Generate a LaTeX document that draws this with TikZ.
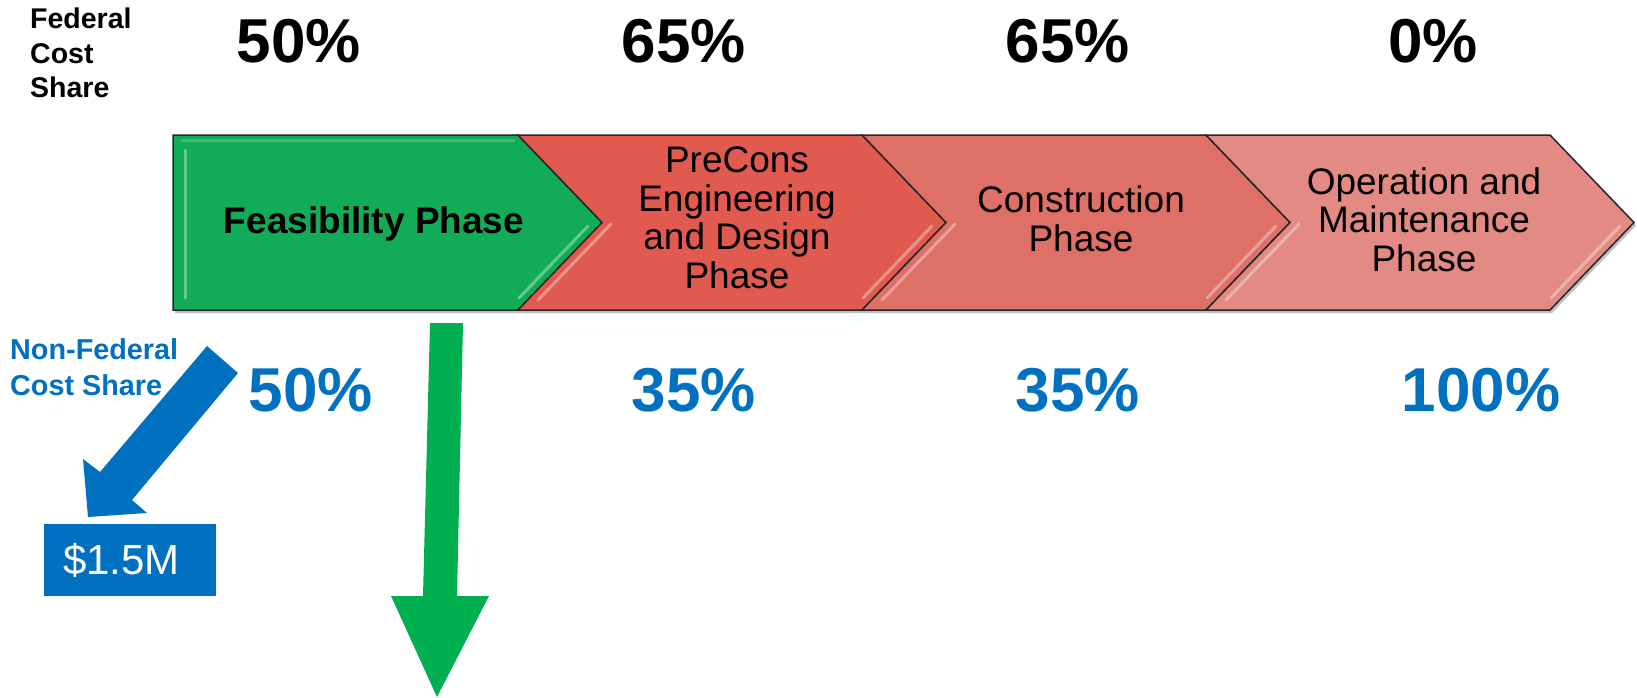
\documentclass[tikz,border=0pt]{standalone}
\usepackage{fontspec}
\setmainfont{Liberation Sans}
\definecolor{feasgreen}{RGB}{18,171,88}
\definecolor{preconsred}{RGB}{224,90,80}
\definecolor{constrred}{RGB}{222,112,104}
\definecolor{omred}{RGB}{226,138,131}
\definecolor{shareblue}{RGB}{0,112,192}
\definecolor{arrowgreen}{RGB}{0,176,80}
\begin{document}
\begin{tikzpicture}[x=1pt,y=-1pt,
  phasebox/.style={draw=black!85, line width=1.5, line join=miter},
  phaseshadow/.style={fill=black, opacity=0.25},
  highlight/.style={draw=white, opacity=0.35, line width=3, line cap=round},
  phaselabel/.style={font=\fontsize{37}{38.5}\selectfont, align=center, inner sep=0},
  pct/.style={font=\fontsize{62}{62}\selectfont\bfseries, inner sep=0, anchor=base},
  fedpct/.style={pct, text=black},
  nonfedpct/.style={pct, text=shareblue},
  sidelabel/.style={align=left, inner sep=0, anchor=west}]
\useasboundingbox (0,0) rectangle (1637,697);

% soft shadows under the phase chevrons
\begin{scope}[shift={(2,3)}]
  \fill[phaseshadow] (173,135) -- (518,135) -- (602,222.5) -- (518,310) -- (173,310) -- cycle;
  \fill[phaseshadow] (518,135) -- (1550,135) -- (1634,222.5) -- (1550,310) -- (518,310) -- (602,222.5) -- cycle;
\end{scope}

% phase chevrons
\fill[feasgreen, phasebox] (173,135) -- (518,135) -- (602,222.5) -- (518,310) -- (173,310) -- cycle;
\fill[preconsred, phasebox] (518,135) -- (862,135) -- (946,222.5) -- (862,310) -- (518,310) -- (602,222.5) -- cycle;
\fill[constrred, phasebox] (862,135) -- (1206,135) -- (1290,222.5) -- (1206,310) -- (862,310) -- (946,222.5) -- cycle;
\fill[omred, phasebox] (1206,135) -- (1550,135) -- (1634,222.5) -- (1550,310) -- (1206,310) -- (1290,222.5) -- cycle;

% bevel highlights
\draw[highlight] (185,150) -- (185,298);
\draw[highlight, opacity=0.2] (182,140) -- (514,140);
\draw[highlight] (519,298) -- (588,226);
\draw[highlight] (538,300) -- (611,224);
\draw[highlight] (863,298) -- (932,226);
\draw[highlight] (882,300) -- (955,224);
\draw[highlight] (1207,298) -- (1276,226);
\draw[highlight] (1226,300) -- (1299,224);
\draw[highlight] (1551,298) -- (1620,226);

% phase names
\node[phaselabel, font=\fontsize{37}{38}\selectfont\bfseries, anchor=base] (feas) at (374,233) {Feasibility Phase};
\node[phaselabel] (precons) at (737,218) {PreCons\\Engineering\\and Design\\Phase};
\node[phaselabel] (constr) at (1081,219) {Construction\\Phase};
\node[phaselabel] (om) at (1424,219.5) {Operation and\\Maintenance\\Phase};

% federal cost share row
\node[sidelabel, font=\fontsize{28.5}{34.5}\selectfont\bfseries] (fedlabel) at (30,53) {Federal\\Cost\\Share};
\node[fedpct] (fed1) at (299,62) {50\%};
\node[fedpct] (fed2) at (684,62) {65\%};
\node[fedpct] (fed3) at (1068,62) {65\%};
\node[fedpct] (fed4) at (1433,62) {0\%};

% non-federal cost share row
\node[sidelabel, text=shareblue, font=\fontsize{28.8}{36}\selectfont\bfseries] (nflabel) at (10,367.5) {Non-Federal\\Cost Share};
\node[nonfedpct] (nf1) at (311,411) {50\%};
\node[nonfedpct] (nf2) at (694,411) {35\%};
\node[nonfedpct] (nf3) at (1078,411) {35\%};
\node[nonfedpct] (nf4) at (1481,411) {100\%};

% block arrows
\fill[shareblue] (207,346) -- (238,373) -- (132,500) -- (147,513) -- (88,517) -- (83,459) -- (100,472) -- cycle;
\fill[arrowgreen] (430,323) -- (463,323) -- (457,596) -- (489,596) -- (437,697) -- (391,596) -- (423,596) -- cycle;

% non-federal amount
\node[fill=shareblue, text=white, font=\fontsize{42}{42}\selectfont, anchor=north west,
      inner xsep=19, inner ysep=0, text width=134, minimum height=72, align=left] (money) at (44,524) {\$1.5M};
\end{tikzpicture}
\end{document}
